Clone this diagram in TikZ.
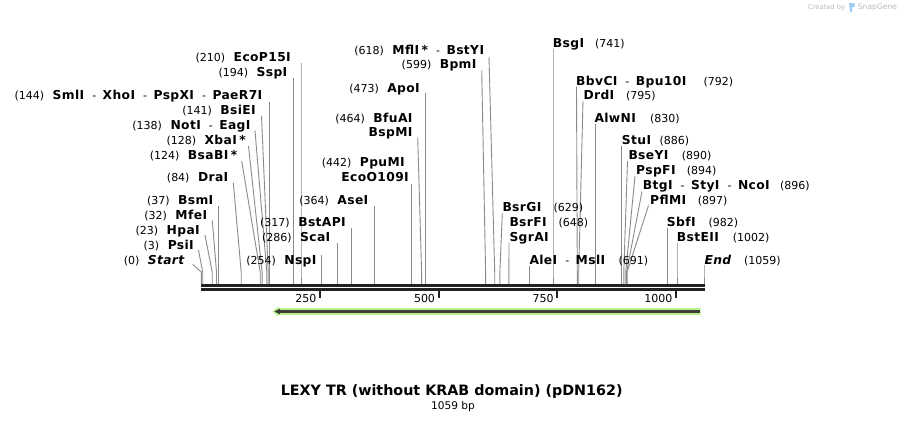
\documentclass[tikz,border=0pt]{standalone}
\usepackage{fontspec}
\setmainfont{DejaVu Sans}
\newfontfamily\enzfont[LetterSpace=3]{DejaVu Sans}
\definecolor{cutgray}{RGB}{138,138,138}
\definecolor{bbdark}{RGB}{34,34,34}
\definecolor{featgreen}{RGB}{183,242,137}
\definecolor{featdark}{RGB}{60,60,60}
\definecolor{wmgray}{RGB}{185,185,185}
\definecolor{wmblue}{RGB}{160,205,240}
\newcommand\enzname[1]{{\enzfont\fontsize{12.3}{14}\selectfont\bfseries #1}}
\newcommand\enzital[1]{{\enzfont\fontsize{12.3}{14}\selectfont\bfseries\itshape #1}}
\newcommand\dashsep{\hspace{8pt}-\hspace{6.5pt}}
\newcommand\numgap{\hspace{8.5pt}}
\begin{document}
\begin{tikzpicture}[x=1pt,y=-1pt,
  lab/.style={inner sep=0pt, font=\fontsize{11}{13}\selectfont, text=black, text height=9pt, text depth=0pt},
  labl/.style={lab, anchor=east},
  labr/.style={lab, anchor=west},
  cut/.style={draw=cutgray, line width=0.9pt},
  bb/.style={draw=bbdark, line width=2.6pt},
  tickmark/.style={draw=bbdark, line width=2pt}]
\useasboundingbox (0,0) rectangle (906,423);

% backbone
\coordinate (bbL1) at (201,285.2); \coordinate (bbR1) at (705,285.2);
\coordinate (bbL2) at (201,289.4); \coordinate (bbR2) at (705,289.4);
\draw[bb] (bbL1) -- (bbR1);
\draw[bb] (bbL2) -- (bbR2);

% ticks
\foreach \v/\x in {250/320,500/438.7,750/557.3,1000/676}{
  \coordinate (k\v) at (\x,290.5);
  \coordinate (k\v b) at (\x,297.5);
  \draw[tickmark] (k\v) -- (k\v b);
  \node[labl] (tl\v) at (\x-3.5,297.5) {\v};
}

% cut lines: id / top x / top y / site x
\foreach \id/\tx/\ty/\sx in {
  0/192.7/264.5/201.3, 3/198.5/250/202.7, 23/205/235/212.2, 32/212.3/220.5/216.5,
  37/218.9/206/218.9, 84/233.3/182.7/241.2, 124/241.7/161/260.2, 128/248.5/146/262.1,
  138/255/130.5/266.8, 141/261.5/116/268.2, 144/269.7/101.5/269.7, 194/293.4/78/293.4,
  210/301/63/301, 254/321.9/255/321.9, 286/337.1/243/337.1, 317/351.8/228/351.8,
  364/374.1/206/374.1, 442/411.1/183.5/411.1, 464/417.7/137.5/421.6, 473/425.8/93/425.8,
  599/481.7/70.5/485.6, 618/489/57/494.7, 629/502.3/213/499.9, 648/509/242.5/508.9,
  691/529.3/266/529.3, 741/553/48.5/553, 792/576.5/86.5/577.3, 795/583/101/578.7,
  830/595.3/123.5/595.3, 886/621.9/146/621.9, 890/627.5/161/623.8, 894/635/176/625.7,
  896/642/191.5/626.6, 897/648.5/205.5/627.1, 982/667.5/228/667.5, 1002/677/243/677,
  1059/704/265/704}{
  \coordinate (t\id) at (\tx,\ty);
  \coordinate (s\id) at (\sx,284);
  \draw[cut] (t\id) -- ([yshift=12pt]s\id) -- (s\id);
}

% left-side labels
\node[labl] (L0) at (184.5,260) {(0)\numgap\enzital{Start}};
\node[labl] (L3) at (194,245) {(3)\numgap\enzname{PsiI}};
\node[labl] (L23) at (200,230) {(23)\numgap\enzname{HpaI}};
\node[labl] (L32) at (207.3,215) {(32)\numgap\enzname{MfeI}};
\node[labl] (L37) at (213.5,200) {(37)\numgap\enzname{BsmI}};
\node[labl] (L84) at (228.5,177) {(84)\numgap\enzname{DraI}};
\node[labl] (L124) at (237.5,155) {(124)\numgap\enzname{BsaBI}\hspace{2.5pt}\enzname{*}};
\node[labl] (L128) at (246,140) {(128)\numgap\enzname{XbaI}\hspace{2.5pt}\enzname{*}};
\node[labl] (L138) at (250.7,125) {(138)\numgap\enzname{NotI}\dashsep\enzname{EagI}};
\node[labl] (L141) at (256,110) {(141)\numgap\enzname{BsiEI}};
\node[labl] (L144) at (262.5,95) {(144)\numgap\enzname{SmlI}\dashsep\enzname{XhoI}\dashsep\enzname{PspXI}\dashsep\enzname{PaeR7I}};
\node[labl] (L194) at (287.5,72) {(194)\numgap\enzname{SspI}};
\node[labl] (L210) at (291,57) {(210)\numgap\enzname{EcoP15I}};
\node[labl] (L254) at (316.7,260) {(254)\numgap\enzname{NspI}};
\node[labl] (L286) at (330.5,237) {(286)\numgap\enzname{ScaI}};
\node[labl] (L317) at (346,222) {(317)\numgap\enzname{BstAPI}};
\node[labl] (L364) at (368.5,200) {(364)\numgap\enzname{AseI}};
\node[labl] (L442a) at (405,162.3) {(442)\numgap\enzname{PpuMI}};
\node[labl] (L442b) at (409,177) {\enzname{EcoO109I}};
\node[labl] (L464a) at (412.7,117.7) {(464)\numgap\enzname{BfuAI}};
\node[labl] (L464b) at (412.7,131.7) {\enzname{BspMI}};
\node[labl] (L473) at (420,87.7) {(473)\numgap\enzname{ApoI}};
\node[labl] (L599) at (476.7,64.3) {(599)\numgap\enzname{BpmI}};
\node[labl] (L618) at (484.3,50) {(618)\numgap\enzname{MflI}\hspace{2.5pt}\enzname{*}\dashsep\enzname{BstYI}};

% right-side labels
\node[labr] (R629) at (502.3,207) {\enzname{BsrGI}};
\node[labr] (N629) at (553.3,207) {(629)};
\node[labr] (R648a) at (509.3,222) {\enzname{BsrFI}};
\node[labr] (N648) at (558.3,222) {(648)};
\node[labr] (R648b) at (509.3,237) {\enzname{SgrAI}};
\node[labr] (R691) at (529.3,260) {\enzname{AleI}\dashsep\enzname{MslI}};
\node[labr] (N691) at (618.3,260) {(691)};
\node[labr] (R741) at (552.7,43) {\enzname{BsgI}};
\node[labr] (N741) at (595,43) {(741)};
\node[labr] (R792) at (576,80.7) {\enzname{BbvCI}\dashsep\enzname{Bpu10I}};
\node[labr] (N792) at (703.3,80.7) {(792)};
\node[labr] (R795) at (583.3,95) {\enzname{DrdI}};
\node[labr] (N795) at (626,95) {(795)};
\node[labr] (R830) at (594.3,117.7) {\enzname{AlwNI}};
\node[labr] (N830) at (650,117.7) {(830)};
\node[labr] (R886) at (621.7,140) {\enzname{StuI}};
\node[labr] (N886) at (659.3,140) {(886)};
\node[labr] (R890) at (628.3,155) {\enzname{BseYI}};
\node[labr] (N890) at (681.7,155) {(890)};
\node[labr] (R894) at (636,170) {\enzname{PspFI}};
\node[labr] (N894) at (686.7,170) {(894)};
\node[labr] (R896) at (642.7,185) {\enzname{BtgI}\dashsep\enzname{StyI}\dashsep\enzname{NcoI}};
\node[labr] (N896) at (780,185) {(896)};
\node[labr] (R897) at (650,200) {\enzname{PflMI}};
\node[labr] (N897) at (697.7,200) {(897)};
\node[labr] (R982) at (666.7,222) {\enzname{SbfI}};
\node[labr] (N982) at (708.3,222) {(982)};
\node[labr] (R1002) at (676.7,237) {\enzname{BstEII}};
\node[labr] (N1002) at (732.7,237) {(1002)};
\node[labr] (R1059) at (704.3,260) {\enzital{End}};
\node[labr] (N1059) at (744,260) {(1059)};

% feature arrow
\fill[featgreen] (700.6,308.1) -- (278.4,308.1) -- (278.4,306.4) -- (272.7,311.5)
  -- (278.4,316.6) -- (278.4,314.9) -- (700.6,314.9) -- cycle;
\coordinate (fR) at (699.5,311.5); \coordinate (fL) at (278,311.5);
\draw[featdark, line width=2.4pt] (fR) -- (fL);
\fill[featdark] (274.5,311.5) -- (280,308.7) -- (280,314.3) -- cycle;

% title
\node[inner sep=0pt, font=\fontsize{14.3}{17}\selectfont\bfseries] (title) at (451.7,391.7) {LEXY TR (without KRAB domain) (pDN162)};
\node[inner sep=0pt, font=\fontsize{10.6}{12}\selectfont] (size) at (453,406.7) {1059 bp};

% watermark
\node[inner sep=0pt, anchor=west, text=wmgray, font=\fontsize{6.7}{8}\selectfont] (wm1) at (808,7.5) {Created by};
\fill[wmblue] (849,3) -- (855,3.5) -- (854.5,6.5) -- (852,7.5) -- (852,12) -- (850,12) -- cycle;
\node[inner sep=0pt, anchor=west, text=wmgray, font=\fontsize{7.6}{9}\selectfont] (wm2) at (857.7,7.5) {SnapGene};
\end{tikzpicture}
\end{document}
